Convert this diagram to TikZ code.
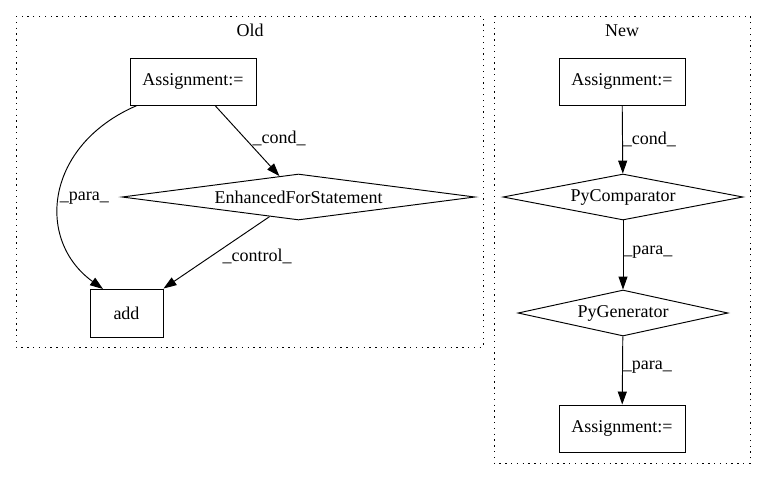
\documentclass[tikz,border=0pt]{standalone}
\usepackage{fontspec}
\setmainfont{Liberation Serif}
\usetikzlibrary{shapes.geometric,arrows.meta}

\begin{document}
\begin{tikzpicture}[x=1pt, y=-1pt, font=\fontsize{18}{21}\selectfont,
  box/.style={draw, rectangle, line width=0.95pt, minimum height=47pt, inner sep=0pt},
  test/.style={draw, diamond, line width=0.95pt, inner sep=0pt, minimum height=46pt},
  cluster/.style={draw, line width=1pt, dash pattern=on 1.3pt off 4.5pt},
  edge/.style={line width=0.95pt, -{Triangle[length=13pt, width=9pt]}},
  lbl/.style={inner sep=0pt}]
  \useasboundingbox (0,0) rectangle (767,480);
  % clusters
  \draw[cluster] (16,16) rectangle (483,347);
  \draw[cluster] (494,16) rectangle (750,463);
  \node (old) at (250,30) {Old};
  \node (new) at (622,31) {New};
  % old version
  \node[box, minimum width=126pt] (oa) at (193,81.5) {Assignment:=};
  \node[test, aspect=7.67, minimum width=353pt] (efs) at (298.5,197) {EnhancedForStatement};
  \node[box, minimum width=73pt, minimum height=48pt] (add) at (126.5,313) {add};
  \draw[edge] ([xshift=22pt]oa.south) -- node[lbl, pos=0.47, right=7pt] {\_cond\_} (efs);
  \draw[edge] ([xshift=-56pt]oa.south) .. controls (45,145) and (35,240) .. node[lbl, pos=0.52, right=0pt] {\_para\_} (103,289);
  \draw[edge] (efs) -- node[lbl, pos=0.55, right=11pt] {\_control\_} (add.north east);
  % new version
  \node[box, minimum width=126pt] (na) at (622,81.5) {Assignment:=};
  \node[test, aspect=5.2, minimum width=240pt] (pc) at (623,197) {PyComparator};
  \node[test, aspect=4.57, minimum width=210pt] (pg) at (623,313) {PyGenerator};
  \node[box, minimum width=126pt] (nb) at (622,428.5) {Assignment:=};
  \draw[edge] (na) -- node[lbl, right] {\_cond\_} (pc);
  \draw[edge] (pc) -- node[lbl, right, yshift=3pt] {\_para\_} (pg);
  \draw[edge] (pg) -- node[lbl, right, yshift=3pt] {\_para\_} (nb);
\end{tikzpicture}
\end{document}
